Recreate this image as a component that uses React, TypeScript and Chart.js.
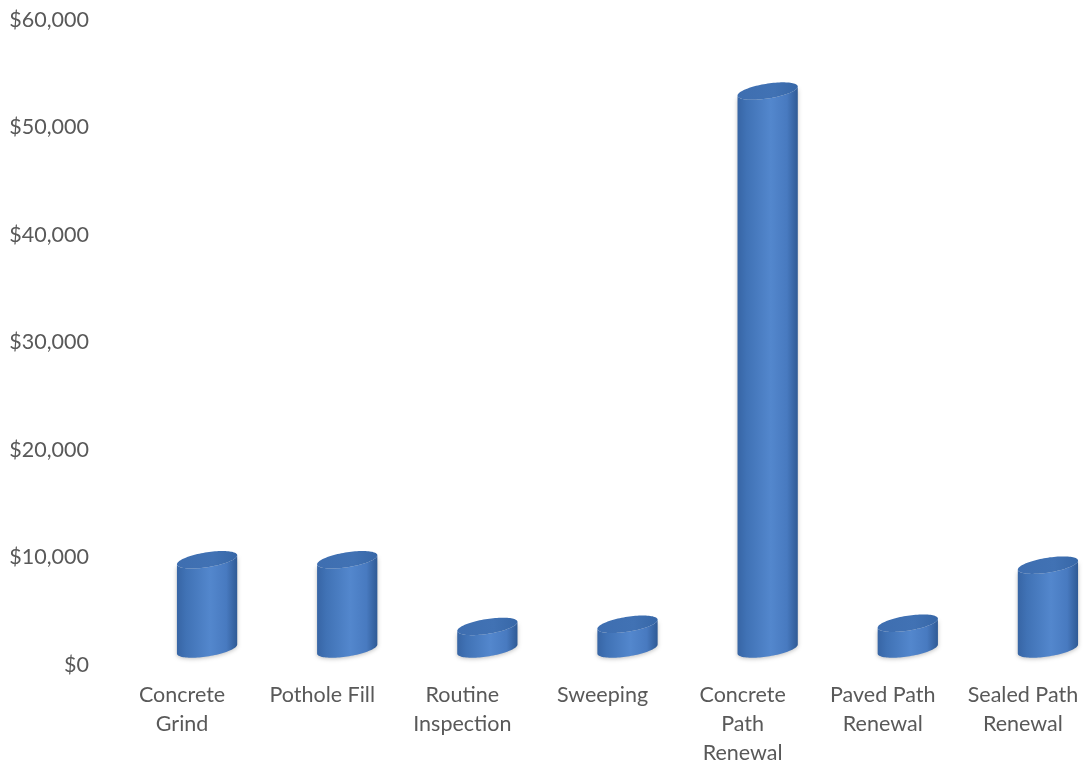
import React, { useEffect, useRef } from "react";
import { Chart, registerables } from "chart.js";

Chart.register(...registerables);

// ---- data ----
const categories: string[][] = [
  ["Concrete", "Grind"],
  ["Pothole Fill"],
  ["Routine", "Inspection"],
  ["Sweeping"],
  ["Concrete", "Path", "Renewal"],
  ["Paved Path", "Renewal"],
  ["Sealed Path", "Renewal"],
];
const costs: number[] = [8300, 8300, 2100, 2300, 51900, 2400, 7800];
const yTickValues: number[] = [0, 10000, 20000, 30000, 40000, 50000, 60000];
const yTickLabels: string[] = ["$0", "$10,000", "$20,000", "$30,000", "$40,000", "$50,000", "$60,000"];

// ---- 3D look (oblique offset of the bars from the front axis) ----
const DX = 25;
const DY = 16;
const SHEAR = 4.5;
const RY = 7.5;

function ellipsePoint(cx: number, cy: number, a: number, t: number) {
  return [cx + a * Math.cos(t), cy + RY * Math.sin(t) - SHEAR * Math.cos(t)];
}

const cylinderPlugin = {
  id: "cylinders",
  afterDatasetsDraw(chart: any) {
    const ctx: CanvasRenderingContext2D = chart.ctx;
    const meta = chart.getDatasetMeta(0);
    const N = 48;
    meta.data.forEach((el: any) => {
      const p = el.getProps(["x", "y", "base", "width"], true);
      const cx = p.x + DX;
      const top = p.y - DY;
      const bot = p.base - DY;
      const a = p.width / 2;

      ctx.save();
      // body
      ctx.beginPath();
      ctx.moveTo(cx - a, top + SHEAR);
      ctx.lineTo(cx - a, bot + SHEAR);
      for (let i = 0; i <= N; i++) {
        const t = Math.PI - (Math.PI * i) / N;
        const [px, py] = ellipsePoint(cx, bot, a, t);
        ctx.lineTo(px, py);
      }
      ctx.lineTo(cx + a, top - SHEAR);
      for (let i = 0; i <= N; i++) {
        const t = (Math.PI * i) / N;
        const [px, py] = ellipsePoint(cx, top, a, t);
        ctx.lineTo(px, py);
      }
      ctx.closePath();
      const g = ctx.createLinearGradient(cx - a, 0, cx + a, 0);
      g.addColorStop(0, "#3765a5");
      g.addColorStop(0.15, "#4072b5");
      g.addColorStop(0.55, "#5387cd");
      g.addColorStop(0.82, "#487ac0");
      g.addColorStop(1, "#2f5a95");
      ctx.shadowColor = "rgba(0,0,0,0.25)";
      ctx.shadowBlur = 4;
      ctx.shadowOffsetX = 0;
      ctx.shadowOffsetY = 1;
      ctx.fillStyle = g;
      ctx.fill();
      ctx.shadowColor = "transparent";
      ctx.shadowBlur = 0;

      // top cap
      ctx.beginPath();
      for (let i = 0; i <= N * 2; i++) {
        const t = (Math.PI * i) / N;
        const [px, py] = ellipsePoint(cx, top, a, t);
        if (i === 0) ctx.moveTo(px, py);
        else ctx.lineTo(px, py);
      }
      ctx.closePath();
      const g2 = ctx.createLinearGradient(cx - a, 0, cx + a, 0);
      g2.addColorStop(0, "#3e6eb0");
      g2.addColorStop(0.6, "#4172b4");
      g2.addColorStop(1, "#3767a7");
      ctx.fillStyle = g2;
      ctx.fill();
      ctx.restore();
    });
  },
};

export default function App() {
  const ref = useRef<HTMLCanvasElement | null>(null);

  useEffect(() => {
    if (!ref.current) return;
    const chart = new Chart(ref.current, {
      type: "bar",
      data: {
        labels: categories,
        datasets: [
          {
            data: costs,
            backgroundColor: "rgba(0,0,0,0)",
            borderWidth: 0,
            categoryPercentage: 1,
            barPercentage: 0.43,
          },
        ],
      },
      options: {
        animation: false,
        responsive: false,
        maintainAspectRatio: false,
        layout: { padding: { top: 20, left: 0, right: 0, bottom: 0 } },
        plugins: {
          legend: { display: false },
          tooltip: { enabled: false },
        },
        scales: {
          x: {
            grid: { display: false, drawTicks: false },
            border: { display: false },
            ticks: {
              color: "#595959",
              padding: 15.5,
              maxRotation: 0,
              autoSkip: false,
              font: { family: "Lato", size: 21.5, lineHeight: 1.35 },
            },
            afterFit: (s: any) => {
              s.height = 99;
              s.paddingLeft = 0;
              s.paddingRight = 0;
            },
          },
          y: {
            min: 0,
            max: 60000,
            grid: { display: false, drawTicks: false },
            border: { display: false },
            afterBuildTicks: (s: any) => {
              s.ticks = yTickValues.map((v) => ({ value: v }));
            },
            ticks: {
              color: "#595959",
              padding: 23,
              font: { family: "Lato", size: 21.5, lineHeight: 1.35 },
              callback: (v: any) => yTickLabels[yTickValues.indexOf(Number(v))] ?? "",
            },
            afterFit: (s: any) => {
              s.width = 112;
              s.paddingTop = 0;
              s.paddingBottom = 0;
            },
          },
        },
      },
      plugins: [cylinderPlugin],
    });
    return () => chart.destroy();
  }, []);

  return (
    <div
      style={{
        position: "absolute",
        left: 0,
        top: 0,
        width: 1084,
        height: 764,
        overflow: "hidden",
        background: "#ffffff",
      }}
    >
      <canvas ref={ref} width={1093} height={764} style={{ display: "block" }} />
    </div>
  );
}
